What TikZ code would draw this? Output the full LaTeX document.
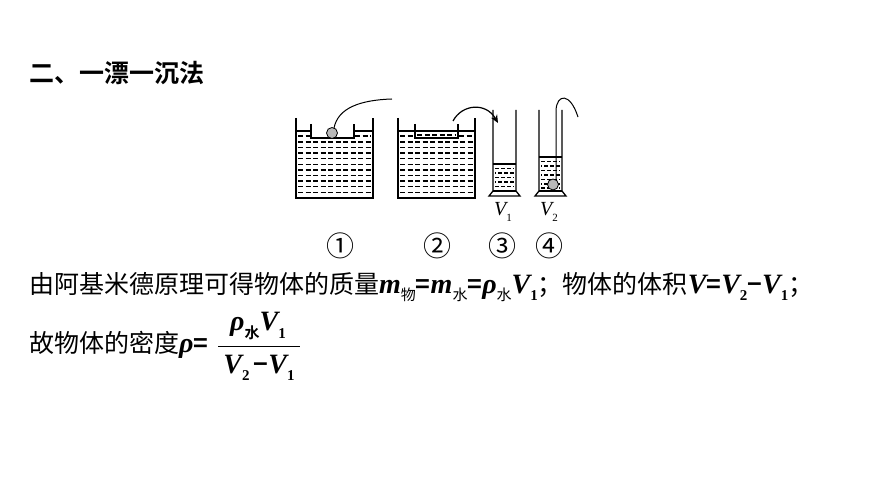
\documentclass[tikz,border=0pt]{standalone}
\usepackage{fontspec}
\setmainfont{Liberation Serif}
\newfontfamily\hei{Noto Sans CJK SC}[BoldFont={Noto Sans CJK SC Bold}]
\usetikzlibrary{arrows.meta}
\newcommand\vv[1]{{\fontsize{28}{30}\selectfont\rmfamily\bfseries\itshape #1}}
\newcommand\sub[1]{\raisebox{-.3em}{\fontsize{15}{15}\selectfont #1}}
\newcommand\dig[1]{\sub{\rmfamily\bfseries #1}}
\newcommand\eq{{\hei\bfseries =}}
\newcommand\mi{{\hei\bfseries −}}
\tikzset{
  wall/.style={line width=1.3pt},
  water/.style={line width=1.4pt,dash pattern=on 5pt off 2.5pt},
  brick/.style={line width=1.1pt,dash pattern=on 4pt off 2pt},
  ball/.style={draw,line width=.8pt,fill=gray!55},
  txt/.style={anchor=west,inner sep=0pt,font=\fontsize{25}{30}\selectfont\hei},
  num/.style={inner sep=0pt,font=\fontsize{28}{28}\selectfont\hei}
}
\begin{document}
\begin{tikzpicture}[x=1pt,y=-1pt]
\useasboundingbox (0,0) rectangle (870,489);
\node[txt,font=\fontsize{25}{30}\selectfont\hei\bfseries] (title) at (29,73) {二、一漂一沉法};
% beaker 1, floating dish with ball
\draw[wall] (296,118) -- (296,198) -- (373,198) -- (373,118);
\draw[wall] (296,131) -- (311,131) (354,131) -- (373,131);
\draw[wall] (311,124) -- (311,138) -- (354,138) -- (354,124);
\draw[water] (298,136) -- (310,136) (355,136) -- (371,136);
\foreach \y in {142,147.6,...,193}
\draw[water] (298,\y) -- (371,\y);
\draw[line width=1pt] (334,128) .. controls (338,108) and (360,100) .. (392,99);
\draw[ball] (332,133) circle (5.5);
% beaker 2, dish filled with water
\draw[wall] (398,118) -- (398,198) -- (475,198) -- (475,118);
\draw[wall] (398,131) -- (475,131);
\draw[wall] (415,124) -- (415,138) -- (458,138) -- (458,124);
\draw[water] (417,135) -- (456,135);
\draw[water] (400,136) -- (414,136) (459,136) -- (473,136);
\foreach \y in {142,147.6,...,193}
\draw[water] (400,\y) -- (473,\y);
\draw[line width=1.2pt,-{Stealth[length=8pt,width=7pt]}] (453,121)
  .. controls (462,104) and (486,102) .. (498,123);
% cylinder 3
\draw[wall] (493,110) -- (493,191) -- (489,196) -- (520,196) -- (516,191) -- (516,110);
\draw[wall] (493,191) -- (516,191);
\draw[wall] (493,164) -- (516,164);
\foreach \y/\s in {168.5/0,173/3,177.5/0,182/3,186.5/0}
\draw[brick,dash phase=\s pt] (495,\y) -- (514,\y);
% cylinder 4, ball sunk on a string
\draw[wall] (539,110) -- (539,191) -- (535,196) -- (566,196) -- (562,191) -- (562,110);
\draw[wall] (539,191) -- (562,191);
\draw[wall] (539,157) -- (562,157);
\foreach \y/\s in {161.5/0,166/3,170.5/0,175/3,179.5/0,184/3,188/0}
\draw[brick,dash phase=\s pt] (541,\y) -- (560,\y);
\draw[line width=1pt] (556,180) -- (556,110) .. controls (557,94) and (570,92) .. (578,117);
\draw[ball] (553,184.5) circle (5.5);
% labels
\node[font=\fontsize{20}{20}\selectfont\itshape] (v1) at (503,212) {V\sub{\fontsize{11}{11}\selectfont\upshape 1}};
\node[font=\fontsize{20}{20}\selectfont\itshape] (v2) at (549,212) {V\sub{\fontsize{11}{11}\selectfont\upshape 2}};
\node[num] (n1) at (340,246) {①};
\node[num] (n2) at (437,246) {②};
\node[num] (n3) at (502.5,246) {③};
\node[num] (n4) at (549,246) {④};
% text below
\node[txt] (line1) at (29,287) {由阿基米德原理可得物体的质量\vv{m}\sub{物}\eq\vv{m}\sub{水}\eq\vv{ρ}\sub{水}\vv{V}\dig{1}；物体的体积\vv{V}\eq\vv{V}\dig{2}\mi\vv{V}\dig{1}；};
\node[txt] (line2) at (29,345) {故物体的密度\vv{ρ}\eq};
\node[inner sep=0pt,font=\fontsize{25}{30}\selectfont\hei] (numer) at (258,326) {\vv{ρ}\sub{\bfseries 水}\vv{V}\dig{1}};
\node[inner sep=0pt,font=\fontsize{25}{30}\selectfont\hei] (denom) at (259,368) {\vv{V}\dig{2}\,\mi\vv{V}\dig{1}};
\draw[line width=1pt] (218,346) -- (300,346); % fraction bar
\end{tikzpicture}
\end{document}
